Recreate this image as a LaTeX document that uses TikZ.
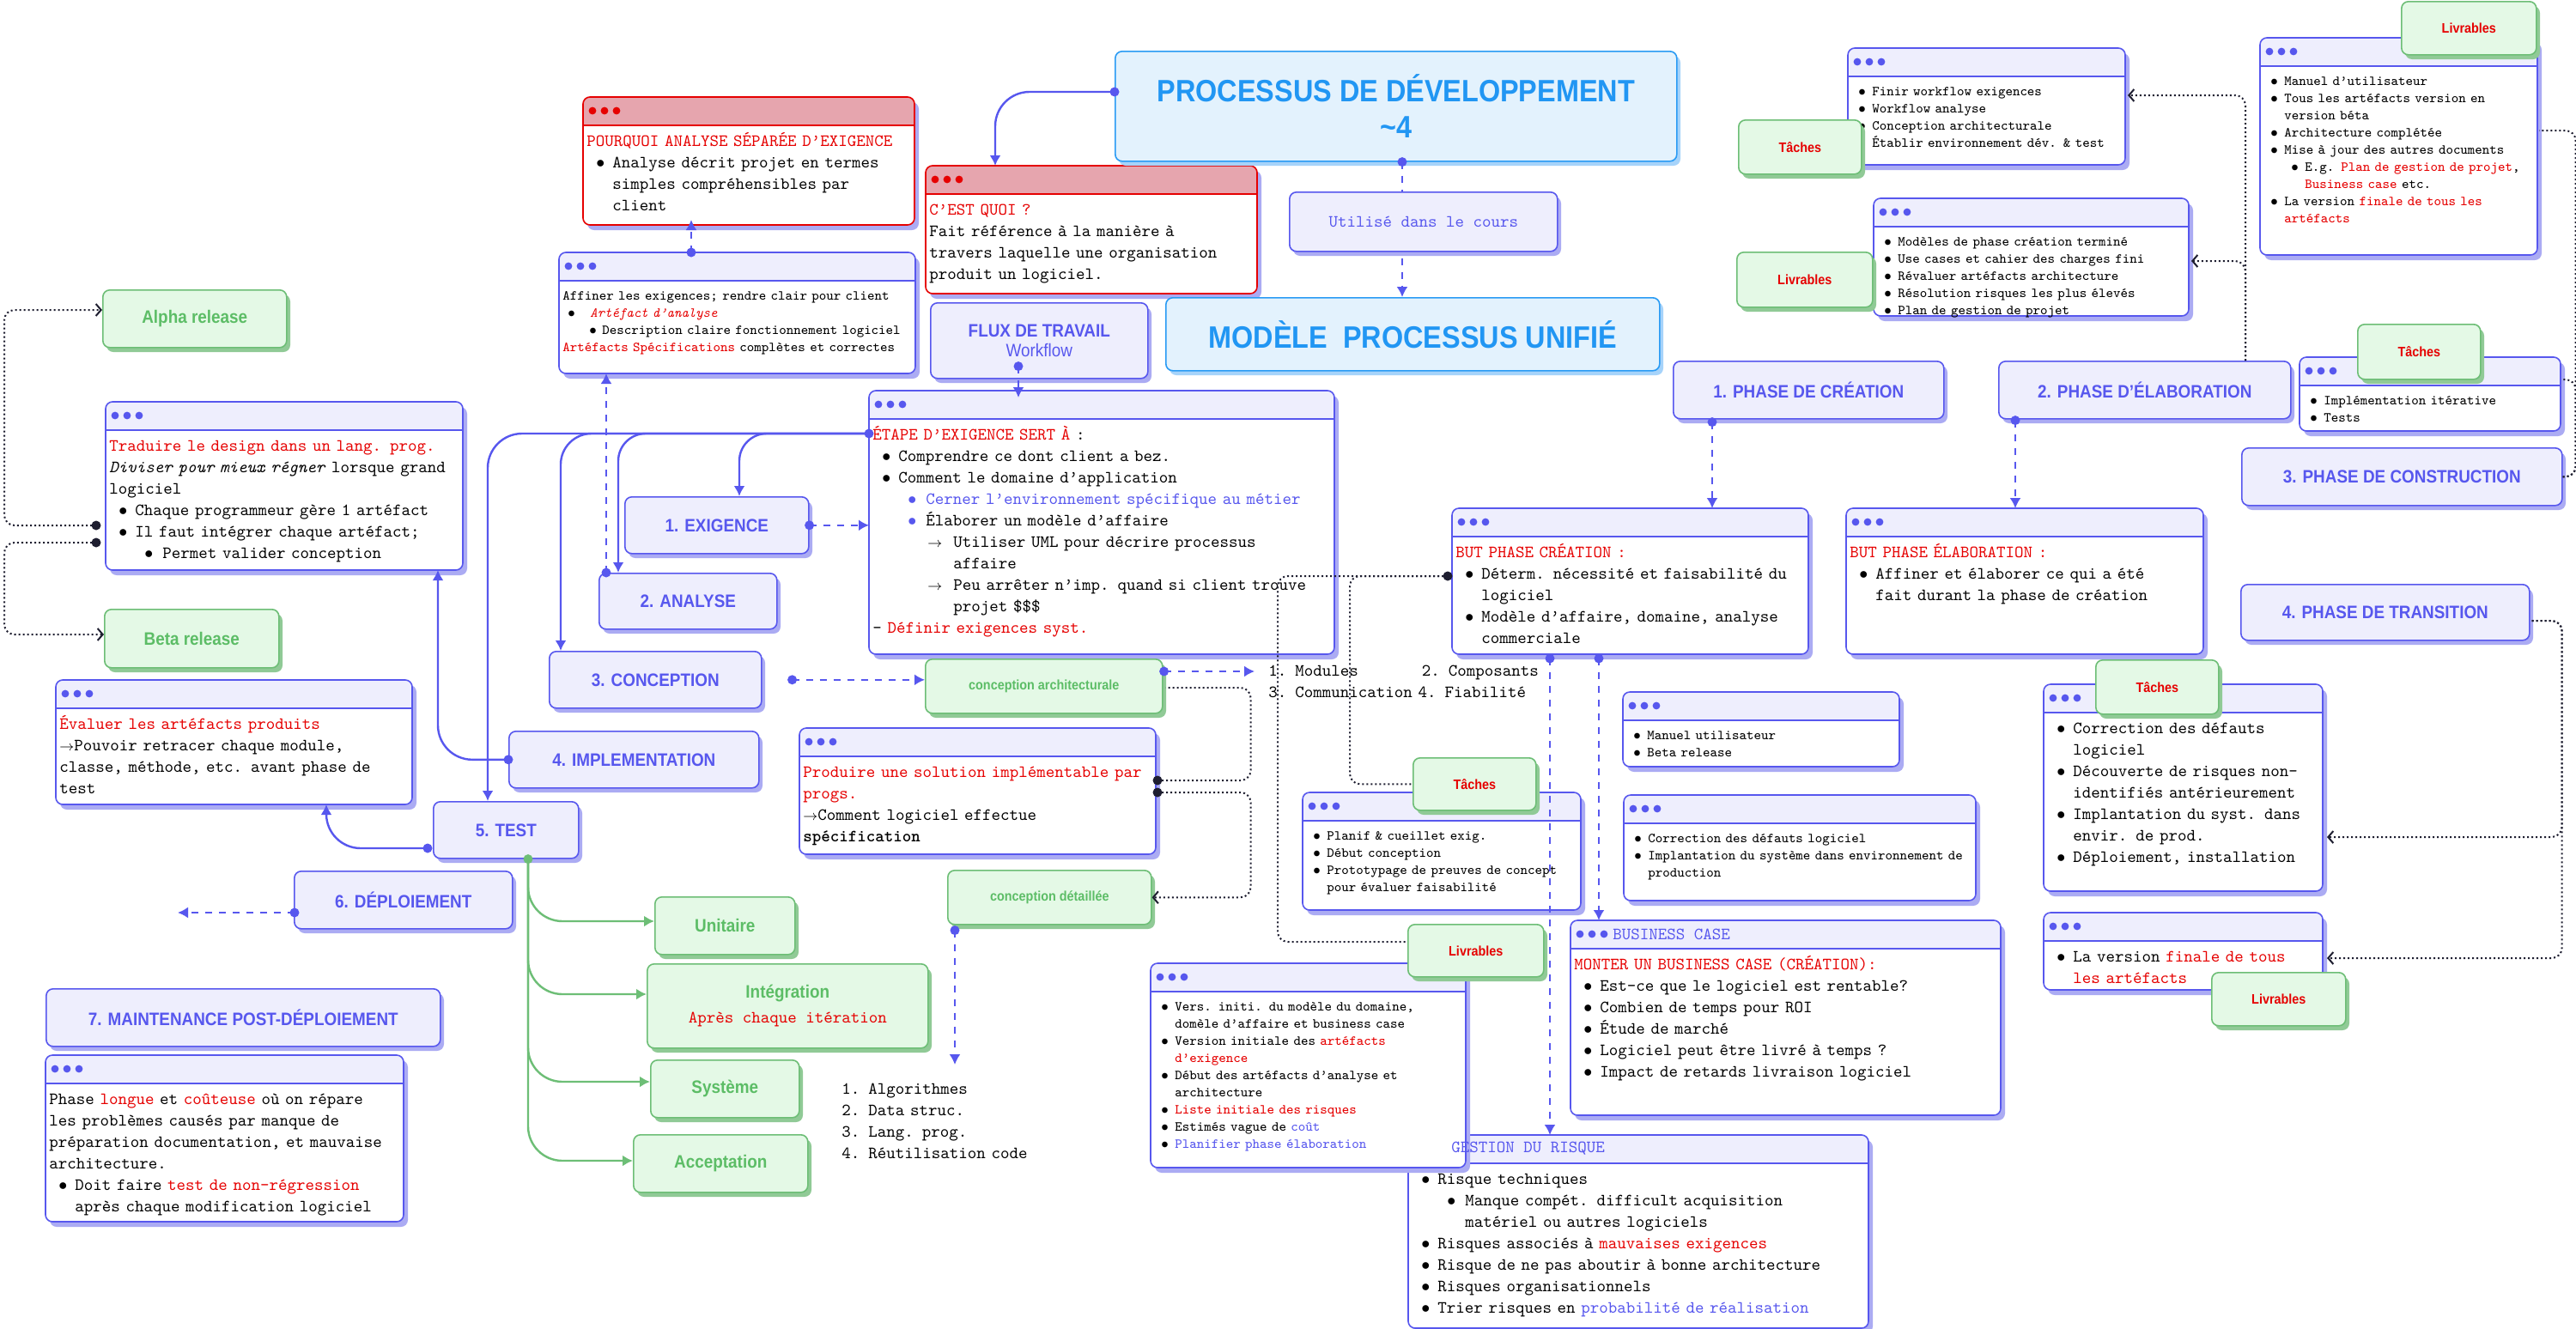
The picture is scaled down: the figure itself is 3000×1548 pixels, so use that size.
\documentclass[tikz,border=0pt]{standalone}
\usepackage{fontspec}
\usetikzlibrary{arrows.meta,calc}
\newfontfamily\labf[FakeStretch=0.9]{Liberation Sans}
\definecolor{cBlue}{HTML}{5757EE}
\definecolor{cLav}{HTML}{EEEEFD}
\definecolor{cShad}{HTML}{ABABF3}
\definecolor{cRed}{HTML}{E60000}
\definecolor{cRedHdr}{HTML}{E6A5AE}
\definecolor{cGFill}{HTML}{E4F9E6}
\definecolor{cGLine}{HTML}{6DBE76}
\definecolor{cGShad}{HTML}{90CA96}
\definecolor{cGText}{HTML}{5CBD66}
\definecolor{cTFill}{HTML}{E3F2FD}
\definecolor{cTLine}{HTML}{2A9BF4}
\definecolor{cTShad}{HTML}{A6D3FA}
\definecolor{cTText}{HTML}{2196F3}
\definecolor{cDot}{HTML}{1E1E30}
\colorlet{lcb}{cBlue}\colorlet{lcr}{cRed}\colorlet{hcb}{cLav}\colorlet{hcr}{cRedHdr}
\newcommand\Rd[1]{\textcolor{cRed}{#1}}
\newcommand\Bl[1]{\textcolor{cBlue}{#1}}
\newcommand\NL{\hfil\break}
\newcommand\Hd[1]{\par\noindent\strut#1}
\newcommand\It[4]{\par\noindent\hangindent=#2\hangafter=1\strut\hbox to #2{\hskip#1\textcolor{#3}{$\bullet$}\hss}#4}
\newcommand\Ia[2][black]{\It{5.5pt}{15pt}{#1}{#2}}
\newcommand\Ib[2][black]{\It{20.5pt}{31pt}{#1}{#2}}
\newcommand\Ic[1]{\par\noindent\hangindent=47pt\hangafter=1\strut\hbox to 47pt{\hskip32pt{\footnotesize$\rightarrow$}\hss}#1}
\newcommand\Sa[2][black]{\It{4pt}{12pt}{#1}{#2}}
\newcommand\Sb[2][black]{\It{16pt}{24pt}{#1}{#2}}
\newcommand\Ar{{\footnotesize$\rightarrow$}}
\tikzset{
 pbox/.style={anchor=north west, fill=cLav, draw=cBlue, line width=0.8pt, rounded corners=4pt, inner sep=0pt, align=center, text=cBlue, font=\labf\bfseries\fontsize{10.5}{12.6}\selectfont},
 gbox/.style={anchor=north west, fill=cGFill, draw=cGLine, line width=0.8pt, rounded corners=4pt, inner sep=0pt, align=center, text=cGText, font=\labf\bfseries\fontsize{10.5}{12.6}\selectfont},
 tbox/.style={anchor=north west, fill=cTFill, draw=cTLine, line width=0.8pt, rounded corners=4pt, inner sep=0pt, align=center, text=cTText, font=\labf\bfseries\fontsize{18}{21}\selectfont},
 tl/.style={text=cRed, font=\labf\bfseries\fontsize{8}{9.6}\selectfont},
 gs/.style={font=\labf\bfseries\fontsize{8}{9.6}\selectfont},
 body/.style={anchor=north west, inner sep=0pt, text width=300pt, align=left, font=\ttfamily\fontsize{10}{12.5}\selectfont},
 bodys/.style={body, font=\ttfamily\fontsize{8}{10}\selectfont},
 bsol/.style={draw=cBlue, line width=1.2pt, rounded corners=20pt, -{Latex[length=6pt,width=6.5pt]}},
 gsol/.style={draw=cGLine, line width=1.2pt, rounded corners=20pt, -{Latex[length=6pt,width=6.5pt]}},
 bdash/.style={draw=cBlue, line width=1pt, dash pattern=on 4pt off 4pt, -{Latex[length=6pt,width=6.5pt]}},
 kdot/.style={draw=cDot, line width=1pt, dash pattern=on 1pt off 1.5pt, rounded corners=6pt},
 karr/.style={-{Straight Barb[length=3pt,width=7pt]}},
}
\newcommand\WB[6]{%
 \fill[cShad, rounded corners=4pt] ({#2+5},{#3+6}) rectangle ++(#4,#5);
 \node[anchor=north west, inner sep=0pt, outer sep=0pt, minimum width=#4*0.5pt, minimum height=#5*0.5pt] (#1) at (#2,#3) {};
 \fill[white, rounded corners=4pt] (#2,#3) rectangle ++(#4,#5);
 \begin{scope}
  \clip[rounded corners=4pt] (#2,#3) rectangle ++(#4,#5);
  \fill[hc#6] (#2,#3) rectangle ++(#4,33);
 \end{scope}
 \draw[lc#6, line width=1.4pt] (#2,{#3+33}) -- ++(#4,0);
 \draw[lc#6, line width=0.8pt, rounded corners=4pt] (#2,#3) rectangle ++(#4,#5);
 \foreach \k in {11,25,39}{\fill[lc#6] ({#2+\k},{#3+16}) circle (2.2pt);}
}
\newcommand\BT[3][body]{\node[#1] (#2-t) at ($(#2.north west)+(4,32)$) {#3\par};}
\newcommand\BS[2]{\node[bodys] (#1-t) at ($(#1.north west)+(4,35)$) {#2\par};}
\newcommand\PB[7][]{\fill[cShad, rounded corners=4pt] ({#3+5},{#4+6}) rectangle ++(#5,#6);
 \node[pbox, #1, minimum width=#5*0.5pt, minimum height=#6*0.5pt] (#2) at (#3,#4) {#7};}
\newcommand\GB[7][]{\fill[cGShad, rounded corners=4pt] ({#3+5},{#4+6}) rectangle ++(#5,#6);
 \node[gbox, #1, minimum width=#5*0.5pt, minimum height=#6*0.5pt] (#2) at (#3,#4) {#7};}
\newcommand\TB[7][]{\fill[cTShad, rounded corners=4pt] ({#3+5},{#4+6}) rectangle ++(#5,#6);
 \node[tbox, #1, minimum width=#5*0.5pt, minimum height=#6*0.5pt] (#2) at (#3,#4) {#7};}
\newcommand\Dt[2][cBlue]{\fill[#1] (#2) circle (2.75pt);}
\begin{document}
\begin{tikzpicture}[x=0.5pt,y=-0.5pt]
\useasboundingbox (0,0) rectangle (3000,1548);
\fill[white] (0,0) rectangle (3000,1548);
% ---------------- window boxes
\WB{pq}{679}{113}{386}{149}{r}
\BT{pq}{\Hd{\Rd{POURQUOI ANALYSE SÉPARÉE D’EXIGENCE}}\Ia{Analyse décrit projet en termes\NL simples compréhensibles par\NL client}}
\WB{cq}{1078}{193}{386}{149}{r}
\BT{cq}{\Hd{\Rd{C’EST QUOI ?}}\Hd{Fait référence à la manière à\NL travers laquelle une organisation\NL produit un logiciel.}}
\WB{aff}{651}{294}{415}{141}{b}
\BS{aff}{\Hd{Affiner les exigences; rendre clair pour client}\It{3pt}{16pt}{black}{\Rd{\itshape Artéfact d’analyse}}\It{15.5pt}{23pt}{black}{Description claire fonctionnement logiciel}\Hd{\Rd{Artéfacts Spécifications} complètes et correctes}}
\WB{etape}{1012}{455}{542}{307}{b}
\BT{etape}{\Hd{\Rd{ÉTAPE D’EXIGENCE SERT À} :}\Ia{Comprendre ce dont client a bez.}\Ia{Comment le domaine d’application}\Ib[cBlue]{\Bl{Cerner l’environnement spécifique au métier}}\Ib[cBlue]{Élaborer un modèle d’affaire}\Ic{Utiliser UML pour décrire processus\NL affaire}\Ic{Peu arrêter n’imp. quand si client trouve\NL projet \$\$\$}\Hd{- \Rd{Définir exigences syst.}}}
\WB{trad}{123}{468}{416}{196}{b}
\BT{trad}{\Hd{\Rd{Traduire le design dans un lang. prog.}}\Hd{\textit{Diviser pour mieux régner} lorsque grand\NL logiciel}\Ia{Chaque programmeur gère 1 artéfact}\Ia{Il faut intégrer chaque artéfact;}\Ib{Permet valider conception}}
\WB{eval}{65}{792}{415}{145}{b}
\BT{eval}{\Hd{\Rd{Évaluer les artéfacts produits}}\Hd{\Ar Pouvoir retracer chaque module,\NL classe, méthode, etc. avant phase de\NL test}}
\WB{prod}{931}{848}{415}{147}{b}
\BT{prod}{\Hd{\Rd{Produire une solution implémentable par\NL progs.}}\Hd{\Ar Comment logiciel effectue\NL \textbf{spécification}}}
\WB{mnt}{53}{1229}{417}{194}{b}
\BT{mnt}{\Hd{Phase \Rd{longue} et \Rd{coûteuse} où on répare\NL les problèmes causés par manque de\NL préparation documentation, et mauvaise\NL architecture.}\Ia{Doit faire \Rd{test de non-régression}\NL après chaque modification logiciel}}
\WB{tcre}{1517}{923}{324}{137}{b}
\BS{tcre}{\Sa{Planif \& cueillet exig.}\Sa{Début conception}\Sa{Prototypage de preuves de concept\NL pour évaluer faisabilité}}
\WB{gest}{1640}{1322}{536}{225}{b}
\BT{gest}{\Ia{Risque techniques}\Ib{Manque compét. difficult acquisition\NL matériel ou autres logiciels}\Ia{Risques associés à \Rd{mauvaises exigences}}\Ia{Risque de ne pas aboutir à bonne architecture}\Ia{Risques organisationnels}\Ia{Trier risques en \Bl{probabilité de réalisation}}}
\WB{lcre}{1340}{1122}{367}{238}{b}
\BS{lcre}{\Sa{Vers. initi. du modèle du domaine,\NL domèle d’affaire et business case}\Sa{Version initiale des \Rd{artéfacts}\NL \Rd{d’exigence}}\Sa{Début des artéfacts d’analyse et\NL architecture}\Sa{\Rd{Liste initiale des risques}}\Sa{Estimés vague de \Bl{coût}}\Sa{\Bl{Planifier phase élaboration}}}
\WB{butc}{1691}{592}{415}{170}{b}
\BT{butc}{\Hd{\Rd{BUT PHASE CRÉATION :}}\Ia{Déterm. nécessité et faisabilité du\NL logiciel}\Ia{Modèle d’affaire, domaine, analyse\NL commerciale}}
\WB{bute}{2150}{592}{416}{170}{b}
\BT{bute}{\Hd{\Rd{BUT PHASE ÉLABORATION :}}\Ia{Affiner et élaborer ce qui a été\NL fait durant la phase de création}}
\WB{manu}{1890}{806}{322}{87}{b}
\BS{manu}{\Sa{Manuel utilisateur}\Sa{Beta release}}
\WB{corr}{1891}{926}{410}{123}{b}
\BS{corr}{\Sa{Correction des défauts logiciel}\Sa{Implantation du système dans environnement de\NL production}}
\WB{bcase}{1829}{1072}{501}{227}{b}
\BT{bcase}{\Hd{\Rd{MONTER UN BUSINESS CASE (CRÉATION):}}\Ia{Est-ce que le logiciel est rentable?}\Ia{Combien de temps pour ROI}\Ia{Étude de marché}\Ia{Logiciel peut être livré à temps ?}\Ia{Impact de retards livraison logiciel}}
\WB{tela}{2152}{56}{323}{136}{b}
\BS{tela}{\Sa{Finir workflow exigences}\Sa{Workflow analyse}\Sa{Conception architecturale}\Sa{Établir environnement dév. \& test}}
\WB{lela}{2182}{231}{367}{137}{b}
\BS{lela}{\Sa{Modèles de phase création terminé}\Sa{Use cases et cahier des charges fini}\Sa{Révaluer artéfacts architecture}\Sa{Résolution risques les plus élevés}\Sa{Plan de gestion de projet}}
\WB{lcon}{2632}{44}{323}{253}{b}
\BS{lcon}{\Sa{Manuel d’utilisateur}\Sa{Tous les artéfacts version en\NL version béta}\Sa{Architecture complétée}\Sa{Mise à jour des autres documents}\Sb{E.g. \Rd{Plan de gestion de projet},\NL \Rd{Business case} etc.}\Sa{La version \Rd{finale de tous les}\NL \Rd{artéfacts}}}
\WB{tcon}{2678}{416}{304}{86}{b}
\BS{tcon}{\Sa{Implémentation itérative}\Sa{Tests}}
\WB{ttra}{2380}{797}{325}{241}{b}
\BT{ttra}{\Ia{Correction des défauts\NL logiciel}\Ia{Découverte de risques non-\NL identifiés antérieurement}\Ia{Implantation du syst. dans\NL envir. de prod.}\Ia{Déploiement, installation}}
\WB{ltra}{2380}{1063}{325}{90}{b}
\BT{ltra}{\Ia{La version \Rd{finale de tous}\NL \Rd{les artéfacts}}}
% ---------------- label boxes
\TB{title}{1298}{59}{654}{128}{PROCESSUS DE DÉVELOPPEMENT\\\textasciitilde4}
\TB{modele}{1357}{346}{575}{85}{MODÈLE\ \ PROCESSUS UNIFIÉ}
\PB[font=\labf\bfseries\fontsize{10.5}{11.5}\selectfont]{flux}{1083}{352}{253}{88}{FLUX DE TRAVAIL\\\mdseries Workflow}
\PB{exig}{727}{578}{214}{66}{1. EXIGENCE}
\PB{anal}{697}{667}{207}{65}{2. ANALYSE}
\PB{conc}{639}{758}{247}{66}{3. CONCEPTION}
\PB{impl}{592}{851}{291}{66}{4. IMPLEMENTATION}
\PB{test}{504}{933}{169}{66}{5. TEST}
\PB{depl}{342}{1014}{254}{67}{6. DÉPLOIEMENT}
\PB{maint}{53}{1151}{459}{67}{7. MAINTENANCE POST-DÉPLOIEMENT}
\PB{ph1}{1948}{420}{315}{67}{1. PHASE DE CRÉATION}
\PB{ph2}{2327}{420}{340}{67}{2. PHASE D’ÉLABORATION}
\PB{ph3}{2610}{521}{373}{67}{3. PHASE DE CONSTRUCTION}
\PB{ph4}{2609}{680}{336}{65}{4. PHASE DE TRANSITION}
% ---------------- green boxes
\GB{alpha}{119}{337}{214}{67}{Alpha release}
\GB{beta}{121}{709}{203}{68}{Beta release}
\GB[gs]{carch}{1077}{767}{276}{63}{conception architecturale}
\GB[gs]{cdet}{1103}{1013}{237}{63}{conception détaillée}
\GB{unit}{762}{1044}{163}{67}{Unitaire}
\GB{integ}{753}{1122}{327}{98}{Intégration\\[2pt]\ttfamily\mdseries\fontsize{10}{12}\selectfont\textcolor{cRed}{Après chaque itération}}
\GB{syst}{757}{1234}{173}{67}{Système}
\GB{accept}{737}{1321}{203}{67}{Acceptation}
\GB[tl]{gT1}{2024}{139}{143}{63}{Tâches}
\GB[tl]{gL1}{2022}{293}{158}{64}{Livrables}
\GB[tl]{gL2}{2796}{1}{157}{62}{Livrables}
\GB[tl]{gT2}{2745}{377}{143}{64}{Tâches}
\GB[tl]{gT3}{1645}{882}{143}{61}{Tâches}
\GB[tl]{gL3}{1639}{1076}{158}{61}{Livrables}
\GB[tl]{gT4}{2440}{768}{143}{63}{Tâches}
\GB[tl]{gL4}{2575}{1132}{156}{62}{Livrables}
% ---------------- free texts
\node[body] (mods) at (1477,762) {\Hd{\makebox[89.25pt][l]{1. Modules}2. Composants}\Hd{3. Communication 4. Fiabilité}\par};
\node[body] (algo) at (980,1249) {\Hd{1. Algorithmes}\Hd{2. Data struc.}\Hd{3. Lang. prog.}\Hd{4. Réutilisation code}\par};
\node[anchor=west, inner sep=0pt, font=\ttfamily\fontsize{10}{12.5}\selectfont, text=cBlue] (bcase-h) at ($(bcase.north west)+(49,16)$) {BUSINESS CASE};
\node[anchor=west, inner sep=0pt, font=\ttfamily\fontsize{10}{12.5}\selectfont, text=cBlue] (gest-h) at ($(gest.north west)+(50,16)$) {GESTION DU RISQUE};
% ---------------- solid blue connectors
\coordinate (c1s) at ($(title.north west)+(0,48)$);
\draw[bsol] (c1s) -| ($(cq.north west)+(81,0)$);
\Dt{c1s}
\coordinate (c2s) at ($(etape.north west)+(0,50)$);
\draw[bsol, rounded corners=16pt] (c2s) -| ($(exig.north west)+(134,0)$);
\draw[bsol, rounded corners=16pt] (c2s) -| ($(anal.north west)+(23,0)$);
\draw[bsol, rounded corners=18pt] (c2s) -| ($(conc.north west)+(14,0)$);
\draw[bsol, rounded corners=20pt] (c2s) -| ($(test.north west)+(64,0)$);
\Dt{c2s}
\draw[bsol] (impl.west) -| ($(trad.south west)+(387,0)$);
\Dt{impl.west}
\coordinate (c4s) at ($(test.north west)+(-6,55)$);
\draw[bsol] (c4s) -| ($(eval.south west)+(315,0)$);
\Dt{c4s}
\coordinate (c5s) at ($(test.south west)+(111,0)$);
\draw[gsol] (c5s) |- ($(unit.north west)+(0,29)$);
\draw[gsol] (c5s) |- ($(integ.north west)+(0,36)$);
\draw[gsol] (c5s) |- ($(syst.north west)+(0,26)$);
\draw[gsol] (c5s) |- ($(accept.north west)+(0,31)$);
\Dt[cGLine]{c5s}
% ---------------- dashed blue connectors
\coordinate (c6s) at ($(title.south west)+(335,0)$);
\draw[bdash] (c6s) -- ($(modele.north west)+(276,0)$);
\Dt{c6s}
\coordinate (c7s) at ($(flux.south west)+(103,-15)$);
\draw[bdash] (c7s) -- ($(etape.north west)+(174,8)$);
\Dt{c7s}
\coordinate (c8s) at ($(aff.north west)+(154,0)$);
\draw[bdash] (c8s) -- ($(pq.south west)+(126,-6)$);
\Dt{c8s}
\coordinate (c9s) at ($(anal.north west)+(9,0)$);
\draw[bdash] (c9s) -- ($(aff.south west)+(55,0)$);
\Dt{c9s}
\draw[bdash] (exig.east) -- (exig.east -| etape.west);
\Dt{exig.east}
\coordinate (c11s) at ($(conc.east)+(35,0)$);
\draw[bdash] (c11s) -- (c11s -| carch.west);
\Dt{c11s}
\coordinate (c12s) at ($(carch.north east)+(1,15)$);
\draw[bdash] (c12s) -- ($(mods.north west)+(-16,20)$);
\Dt{c12s}
\coordinate (c13s) at ($(cdet.south west)+(9,6)$);
\draw[bdash] (c13s) -- ($(algo.north west)+(132,-9)$);
\Dt{c13s}
\coordinate (c14s) at ($(depl.north west)+(1,49)$);
\coordinate (c14e) at (207,1063);
\draw[bdash] (c14s) -- (c14e);
\Dt{c14s}
\coordinate (c15s) at ($(ph1.south west)+(46,3)$);
\draw[bdash] (c15s) -- ($(butc.north west)+(303,0)$);
\Dt{c15s}
\coordinate (c16s) at ($(ph2.south west)+(20,1)$);
\draw[bdash] (c16s) -- ($(bute.north west)+(197,0)$);
\Dt{c16s}
\coordinate (c17s) at ($(butc.south west)+(114,5)$);
\draw[bdash] (c17s) -- ($(gest.north west)+(165,0)$);
\Dt{c17s}
\coordinate (c18s) at ($(butc.south west)+(171,5)$);
\draw[bdash] (c18s) -- ($(bcase.north west)+(33,0)$);
\Dt{c18s}
% ---------------- dotted black connectors
\coordinate (d1s) at ($(trad.north west)+(-11,144)$);
\draw[kdot, karr] (d1s) -| ($(alpha.north west)+(-114,24)$) -- ($(alpha.north west)+(0,24)$);
\Dt[cDot]{d1s}
\coordinate (d2s) at ($(trad.north west)+(-11,164)$);
\draw[kdot, karr] (d2s) -| ($(beta.north west)+(-116,30)$) -- ($(beta.north west)+(0,30)$);
\Dt[cDot]{d2s}
\coordinate (d3s) at ($(prod.north east)+(2,61)$);
\draw[kdot] (d3s) -| ($(carch.north east)+(102,34)$) -- ($(carch.north east)+(3,34)$);
\Dt[cDot]{d3s}
\coordinate (d4s) at ($(prod.north east)+(2,75)$);
\draw[kdot, karr] (d4s) -| ($(cdet.east)+(115,0)$) -- (cdet.east);
\Dt[cDot]{d4s}
\coordinate (d5s) at ($(butc.north west)+(-5,79)$);
\draw[kdot] (d5s) -| ($(gL3.north west)+(-151,21)$) -- ($(gL3.north west)+(0,21)$);
\draw[kdot] (d5s) -| ($(gT3.west)+(-73,0)$) -- (gT3.west);
\Dt[cDot]{d5s}
\coordinate (d7s) at ($(ph2.north west)+(288,0)$);
\draw[kdot, karr] (d7s) |- ($(tela.north east)+(3,55)$);
\draw[kdot, karr] (d7s) |- ($(lela.north east)+(3,73)$);
\draw[kdot] (ph3.east) -- ++(15,0) |- ($(lcon.north east)+(2,108)$);
\draw[kdot] (ph3.east) -- ++(15,0) |- ($(tcon.north east)+(2,26)$);
\coordinate (d11s) at ($(ph4.north east)+(2,43)$);
\draw[kdot, karr] (d11s) -- ++(35,0) |- ($(ttra.north east)+(5,178)$);
\draw[kdot, karr] (d11s) -- ++(35,0) |- ($(ltra.north east)+(5,53)$);
% ---------------- edge label
\PB[font=\ttfamily\fontsize{10}{12.5}\selectfont]{uti}{1501}{223}{312}{69}{Utilisé dans le cours}
\end{tikzpicture}
\end{document}
